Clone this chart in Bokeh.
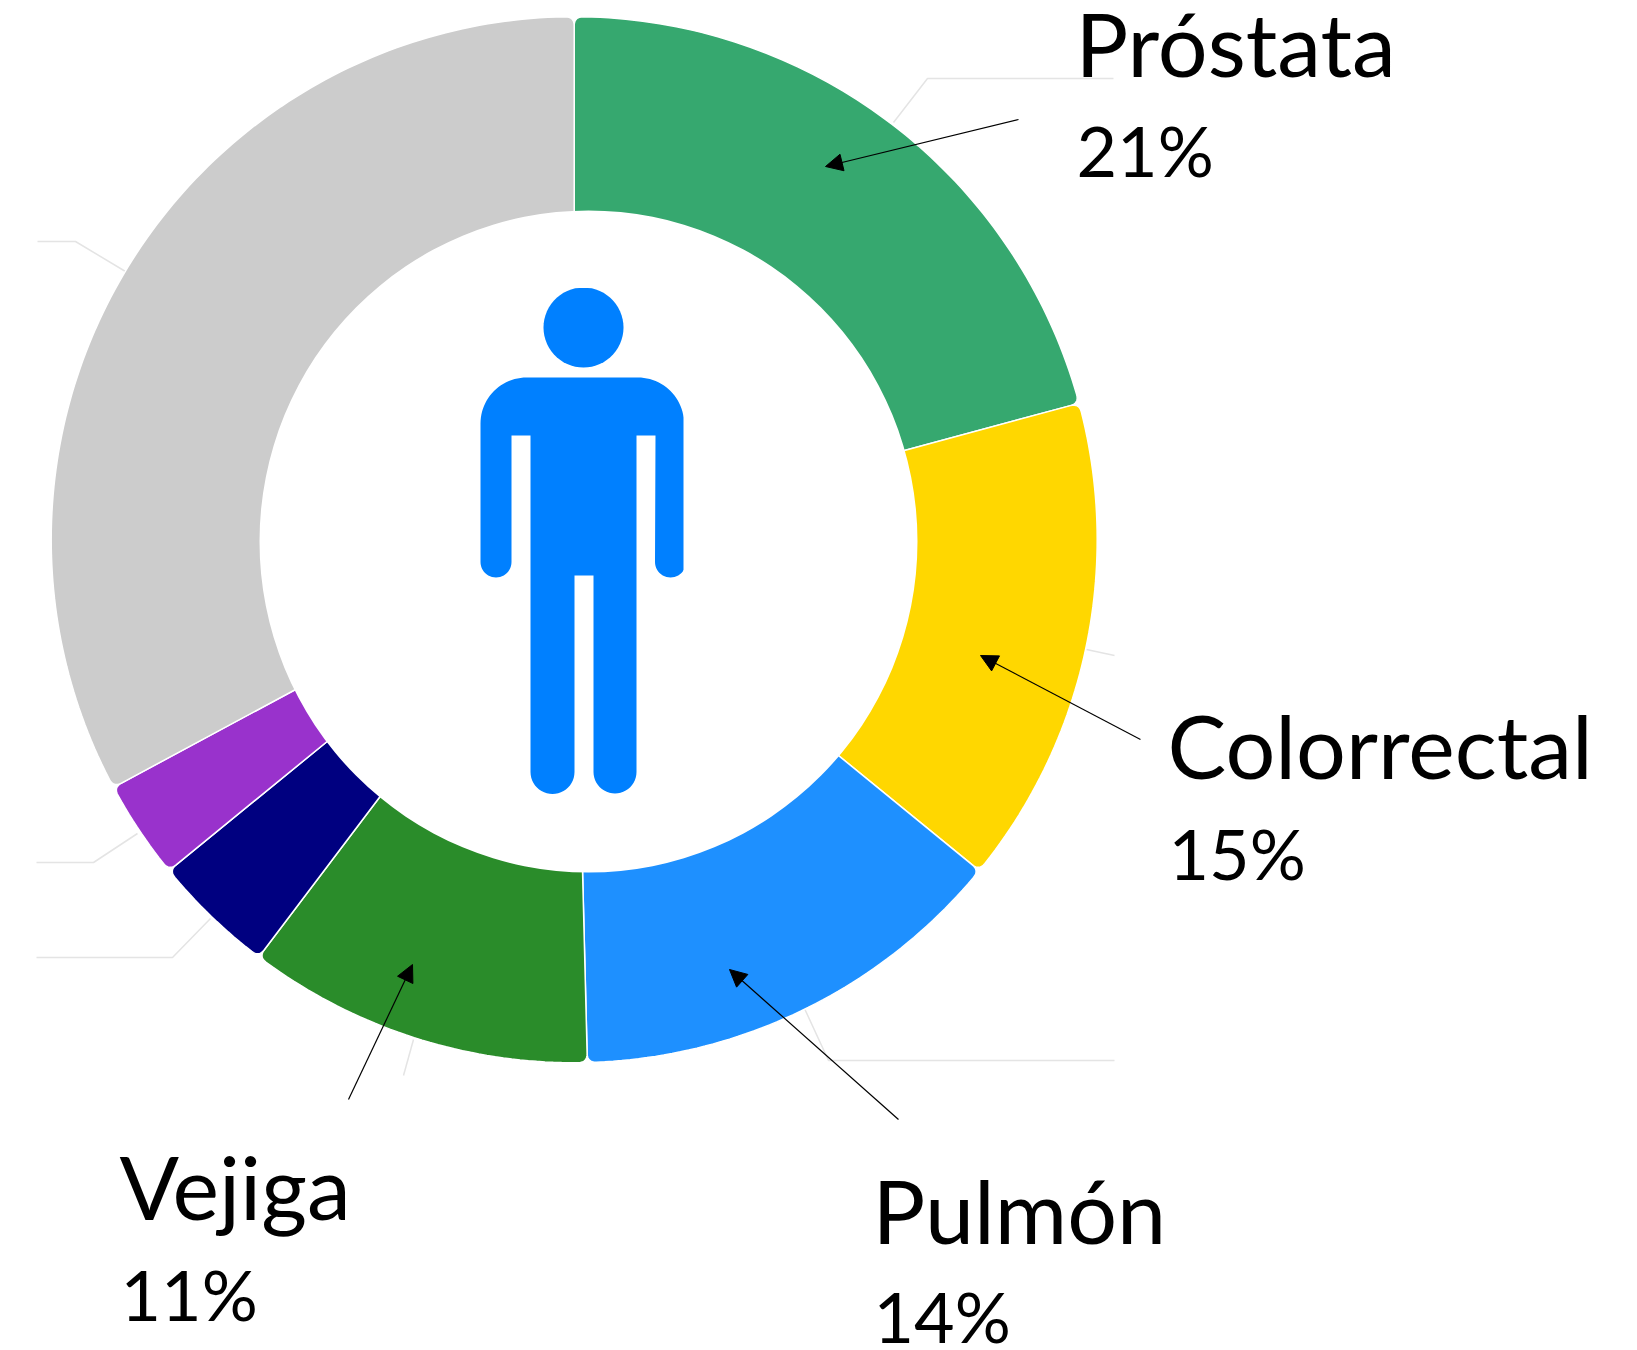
import math
from bokeh.plotting import figure
from bokeh.models import Range1d, Arrow, NormalHead
from bokeh.core.properties import value
from bokeh.embed import file_html
from bokeh.resources import INLINE

# data
categories = ["Próstata", "Colorrectal", "Pulmón", "Vejiga", "Riñón", "Estómago", "Otros"]
shares = [20.8, 15.1, 13.7, 10.7, 3.8, 3.05, 32.85]
colors = ["#36A86F", "#FFD700", "#1E90FF", "#2A8C2A", "#000080", "#9932CC", "#CCCCCC"]
shown_names = ["Próstata", "Colorrectal", "Pulmón", "Vejiga"]
shown_pcts = ["21%", "15%", "14%", "11%"]

# layout
CX, CY, R = 573.7, 539.2, 523.0
HOLE_X, HOLE_Y, HOLE_W, HOLE_H = 588.0, 541.0, 658.0, 662.0
R0, CORNER = 300.0, 9.0
ICON = "#0080FF"
LEADER = "#E4E4E4"

p = figure(width=1637, height=1350, output_backend="svg", toolbar_location=None,
           x_range=Range1d(0, 1637), y_range=Range1d(1350, 0), min_border=0)
p.axis.visible = False
p.grid.visible = False
p.outline_line_color = None
p.background_fill_color = "white"


def pol(r, a, cx=CX, cy=CY):
    return cx + r * math.sin(a), cy - r * math.cos(a)


def ring_patch(a0, a1):
    pts = [pol(R0, a0), pol(R - CORNER, a0)]
    dc = CORNER / R
    ctrl = pol(R, a0)
    s, e = pol(R - CORNER, a0), pol(R, a0 + dc)
    for i in range(1, 9):
        t = i / 8
        pts.append(((1-t)**2*s[0] + 2*t*(1-t)*ctrl[0] + t*t*e[0],
                    (1-t)**2*s[1] + 2*t*(1-t)*ctrl[1] + t*t*e[1]))
    n = max(4, int((a1 - a0) * 60))
    for i in range(1, n):
        pts.append(pol(R, a0 + dc + (a1 - a0 - 2*dc) * i / n))
    ctrl = pol(R, a1)
    s, e = pol(R, a1 - dc), pol(R - CORNER, a1)
    for i in range(0, 9):
        t = i / 8
        pts.append(((1-t)**2*s[0] + 2*t*(1-t)*ctrl[0] + t*t*e[0],
                    (1-t)**2*s[1] + 2*t*(1-t)*ctrl[1] + t*t*e[1]))
    pts.append(pol(R0, a1))
    for i in range(1, n):
        pts.append(pol(R0, a1 - (a1 - a0) * i / n))
    return [q[0] for q in pts], [q[1] for q in pts]


# leader lines behind the ring
leaders = [
    ([893, 927, 1113], [122, 78, 78]),
    ([125, 75, 37], [271, 241, 241]),
    ([1086, 1114], [649, 655]),
    ([804, 828, 1114], [1008, 1060, 1060]),
    ([413, 403], [1039, 1075]),
    ([137, 93, 36], [833, 862, 862]),
    ([210, 172, 36], [918, 957, 957]),
]
for lx, ly in leaders:
    p.line(lx, ly, line_color=LEADER, line_width=1.5)

# ring
total = sum(shares)
xs, ys = [], []
acc = 0.0
for s in shares:
    a0 = 2 * math.pi * acc / total
    acc += s
    a1 = 2 * math.pi * acc / total
    x, y = ring_patch(a0, a1)
    xs.append(x)
    ys.append(y)
p.patches(xs, ys, fill_color=colors, line_color="white", line_width=1.5)

# hole
p.ellipse([HOLE_X], [HOLE_Y], width=HOLE_W, height=HOLE_H, fill_color="white", line_color=None)


# person icon
def arc(cx, cy, r, a0, a1, n=24):
    return [(cx + r * math.cos(math.radians(a0 + (a1 - a0) * i / n)),
             cy + r * math.sin(math.radians(a0 + (a1 - a0) * i / n))) for i in range(n + 1)]


body = []
body += arc(637.5, 423, 46, -90, 0)
body += arc(670, 561.5, 15.5, 0, 180)
body += [(655, 435), (636, 435)]
body += arc(614.5, 771.5, 21.5, 0, 180)
body += [(593, 575), (574, 575)]
body += arc(552, 771.5, 22, 0, 180)
body += [(530, 435), (511, 435)]
body += arc(495.5, 561.5, 15.5, 0, 180)
body += arc(526, 423, 46, 180, 270)
p.patch([min(q[0], 683) for q in body], [q[1] for q in body], fill_color=ICON, line_color=None)
head = arc(583, 327, 40, 0, 360, 60)
p.patch([q[0] for q in head], [max(q[1], 287.5) for q in head], fill_color=ICON, line_color=None)

# arrows
arrows = [
    (1018, 119, 825, 166),
    (1140, 739, 980, 655),
    (898, 1119, 729, 969),
    (348, 1099, 412, 964),
]
for x0, y0, x1, y1 in arrows:
    p.add_layout(Arrow(end=NormalHead(size=17, fill_color="black", line_color="black", line_width=1),
                       x_start=x0, y_start=y0, x_end=x1, y_end=y1,
                       line_color="black", line_width=1.2))

# labels
name_pos = [(1075, 76), (1167, 778), (872, 1243), (119, 1219)]
pct_pos = [(1076, 177), (1168, 880), (873, 1343), (120, 1321)]
p.text([q[0] for q in name_pos], [q[1] for q in name_pos], text=shown_names,
       text_font=value("Lato"), text_font_size="88px", text_color="black",
       text_baseline="alphabetic", text_align="left", y_offset=-34)
p.text([q[0] for q in pct_pos], [q[1] for q in pct_pos], text=shown_pcts,
       text_font=value("Lato"), text_font_size="70px", text_color="black",
       text_baseline="alphabetic", text_align="left", y_offset=-28)

open("out.html", "w").write(file_html(p, INLINE))
